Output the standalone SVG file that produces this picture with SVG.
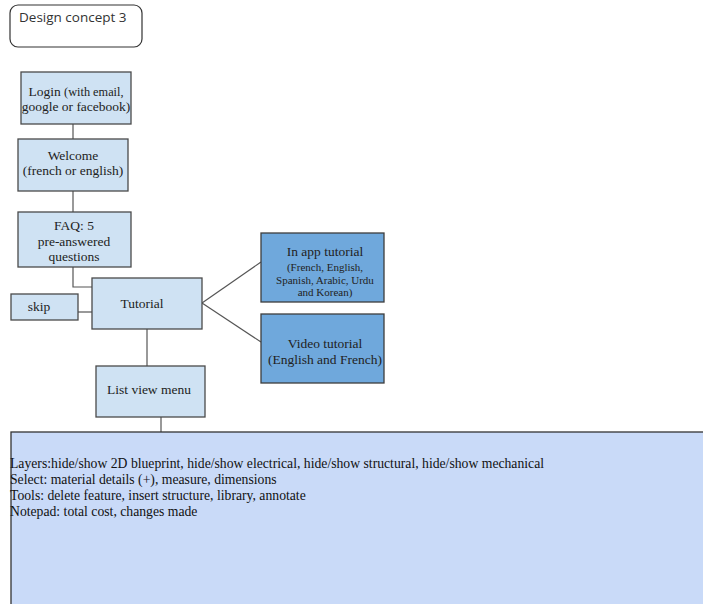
<svg xmlns="http://www.w3.org/2000/svg" width="703" height="604" viewBox="0 0 703 604">
<style>
.light{fill:#cfe2f3;stroke:#4a4a4a;stroke-width:1.3}
.dark{fill:#6fa8dc;stroke:#3d3d3d;stroke-width:1.3}
.big{fill:#c9daf8;stroke:#333;stroke-width:1.3}
.t{font-family:"Liberation Serif","Times New Roman",serif;font-size:13.5px;fill:#222;text-anchor:middle}
.s{font-family:"Liberation Serif","Times New Roman",serif;font-size:11px;fill:#222;text-anchor:middle}
.b{font-family:"Liberation Serif","Times New Roman",serif;font-size:13.7px;fill:#111}
.c line,.c polyline{stroke:#555;stroke-width:1.2;fill:none}
</style>
<rect width="703" height="604" fill="#fff"/>
<g id="connectors" class="c">
<line x1="73" y1="124" x2="73" y2="139"/>
<line x1="73" y1="191" x2="73" y2="212"/>
<polyline points="73,267 73,287 92,287"/>
<line x1="78" y1="312" x2="92" y2="312"/>
<line x1="202" y1="303" x2="261" y2="262"/>
<line x1="202" y1="303" x2="261" y2="342"/>
<line x1="147" y1="329" x2="147" y2="366"/>
<line x1="161" y1="417" x2="161" y2="432"/>
</g>
<g id="title">
<rect x="10" y="5" width="132" height="42" rx="8" fill="#fff" stroke="#333" stroke-width="1.2"/>
<text x="19" y="22" font-family="'Open Sans','Noto Sans',sans-serif" font-size="13.5" fill="#333">Design concept 3</text>
</g>
<g id="login">
<rect class="light" x="21" y="72" width="110" height="52"/>
<text class="t" x="76" y="96">Login <tspan font-size="12.3">(with email,</tspan></text>
<text class="t" x="76" y="111" font-size="12.3">google or facebook)</text>
</g>
<g id="welcome">
<rect class="light" x="18" y="139" width="110" height="52"/>
<text class="t" x="73" y="160">Welcome</text>
<text class="t" x="73" y="175">(french or english)</text>
</g>
<g id="faq">
<rect class="light" x="18" y="212" width="113" height="55"/>
<text class="t" x="74" y="230">FAQ: 5</text>
<text class="t" x="74" y="246">pre-answered</text>
<text class="t" x="74" y="261">questions</text>
</g>
<g id="skip">
<rect class="light" x="11" y="294" width="67" height="26"/>
<text class="t" x="39" y="311">skip</text>
</g>
<g id="tutorial">
<rect class="light" x="92" y="278" width="110" height="51"/>
<text class="t" x="142" y="308">Tutorial</text>
</g>
<g id="inapp">
<rect class="dark" x="261" y="233" width="123" height="69"/>
<text class="t" x="325" y="256">In app tutorial</text>
<text class="s" x="325" y="271">(French, English,</text>
<text class="s" x="325" y="284">Spanish, Arabic, Urdu</text>
<text class="s" x="325" y="296">and Korean)</text>
</g>
<g id="video">
<rect class="dark" x="261" y="314" width="123" height="69"/>
<text class="t" x="325" y="348">Video tutorial</text>
<text class="t" x="325" y="364">(English and French)</text>
</g>
<g id="listview">
<rect class="light" x="96" y="366" width="109" height="51"/>
<text class="t" x="149" y="394">List view menu</text>
</g>
<g id="details">
<rect class="big" x="11" y="432" width="700" height="180"/>
<text class="b" x="10" y="468">Layers:hide/show 2D blueprint, hide/show electrical, hide/show structural, hide/show mechanical</text>
<text class="b" x="10" y="484">Select: material details (+), measure, dimensions</text>
<text class="b" x="10" y="500">Tools: delete feature, insert structure, library, annotate</text>
<text class="b" x="10" y="516">Notepad: total cost, changes made</text>
</g>
</svg>
